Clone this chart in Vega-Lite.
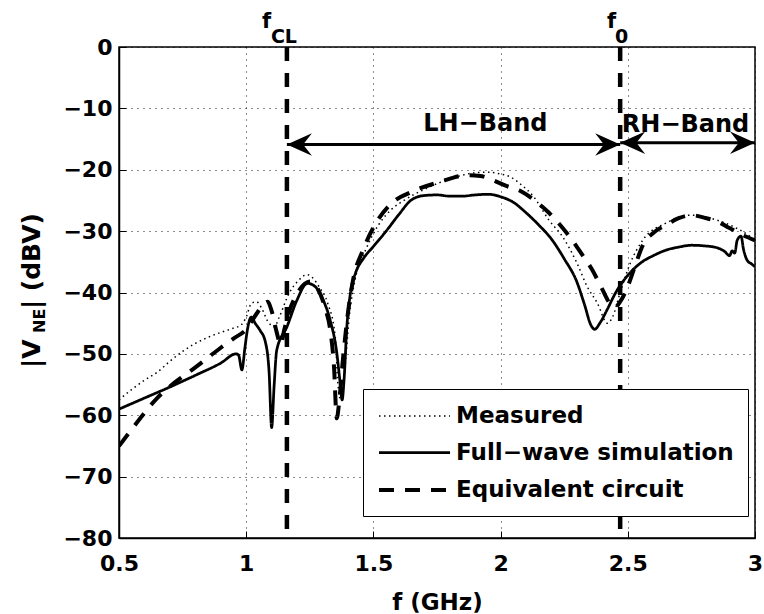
{
  "$schema": "https://vega.github.io/schema/vega-lite/v6.json",
  "width": 636,
  "height": 491,
  "autosize": {"type": "none"},
  "padding": {"left": 119, "top": 47, "right": 9, "bottom": 76},
  "background": "white",
  "config": {
    "font": "DejaVu Sans",
    "view": {"stroke": "black", "strokeWidth": 1.5},
    "axis": {
      "domainColor": "black", "domainWidth": 1.5,
      "tickColor": "black", "tickWidth": 1, "tickSize": -7,
      "grid": true, "gridColor": "black", "gridDash": [1, 5], "gridWidth": 1, "gridOpacity": 0.9,
      "labelFlush": false, "labelOverlap": false,
      "labelFont": "DejaVu Sans", "labelFontWeight": "bold", "labelFontSize": 22, "labelColor": "black",
      "titleFont": "DejaVu Sans", "titleFontWeight": "bold", "titleFontSize": 23, "titleColor": "black"
    }
  },
  "datasets": {
    "curves": [
      {"f": 0.5, "v": -57.5, "series": "Measured"},
      {"f": 0.55, "v": -55.8, "series": "Measured"},
      {"f": 0.6, "v": -54.3, "series": "Measured"},
      {"f": 0.65, "v": -53.0, "series": "Measured"},
      {"f": 0.7, "v": -51.2, "series": "Measured"},
      {"f": 0.75, "v": -49.6, "series": "Measured"},
      {"f": 0.8, "v": -48.3, "series": "Measured"},
      {"f": 0.85, "v": -47.3, "series": "Measured"},
      {"f": 0.9, "v": -46.5, "series": "Measured"},
      {"f": 0.95, "v": -45.8, "series": "Measured"},
      {"f": 0.98, "v": -45.3, "series": "Measured"},
      {"f": 1.0, "v": -44.0, "series": "Measured"},
      {"f": 1.02, "v": -41.8, "series": "Measured"},
      {"f": 1.04, "v": -41.5, "series": "Measured"},
      {"f": 1.06, "v": -42.5, "series": "Measured"},
      {"f": 1.085, "v": -44.7, "series": "Measured"},
      {"f": 1.11, "v": -45.6, "series": "Measured"},
      {"f": 1.13, "v": -44.0, "series": "Measured"},
      {"f": 1.17, "v": -40.0, "series": "Measured"},
      {"f": 1.2, "v": -38.3, "series": "Measured"},
      {"f": 1.24, "v": -37.1, "series": "Measured"},
      {"f": 1.29, "v": -39.3, "series": "Measured"},
      {"f": 1.32, "v": -41.7, "series": "Measured"},
      {"f": 1.35, "v": -47.2, "series": "Measured"},
      {"f": 1.36, "v": -54.7, "series": "Measured"},
      {"f": 1.372, "v": -57.5, "series": "Measured"},
      {"f": 1.385, "v": -53.8, "series": "Measured"},
      {"f": 1.405, "v": -44.0, "series": "Measured"},
      {"f": 1.43, "v": -37.5, "series": "Measured"},
      {"f": 1.47, "v": -33.0, "series": "Measured"},
      {"f": 1.52, "v": -29.0, "series": "Measured"},
      {"f": 1.57, "v": -26.5, "series": "Measured"},
      {"f": 1.62, "v": -25.0, "series": "Measured"},
      {"f": 1.7, "v": -23.2, "series": "Measured"},
      {"f": 1.8, "v": -21.5, "series": "Measured"},
      {"f": 1.9, "v": -20.5, "series": "Measured"},
      {"f": 1.95, "v": -20.4, "series": "Measured"},
      {"f": 2.0, "v": -20.7, "series": "Measured"},
      {"f": 2.04, "v": -21.2, "series": "Measured"},
      {"f": 2.08, "v": -22.4, "series": "Measured"},
      {"f": 2.13, "v": -24.4, "series": "Measured"},
      {"f": 2.19, "v": -28.2, "series": "Measured"},
      {"f": 2.245, "v": -31.0, "series": "Measured"},
      {"f": 2.3, "v": -35.2, "series": "Measured"},
      {"f": 2.34, "v": -39.0, "series": "Measured"},
      {"f": 2.38, "v": -41.7, "series": "Measured"},
      {"f": 2.42, "v": -45.0, "series": "Measured"},
      {"f": 2.44, "v": -44.0, "series": "Measured"},
      {"f": 2.47, "v": -40.0, "series": "Measured"},
      {"f": 2.51, "v": -35.2, "series": "Measured"},
      {"f": 2.56, "v": -31.4, "series": "Measured"},
      {"f": 2.65, "v": -28.7, "series": "Measured"},
      {"f": 2.745, "v": -27.4, "series": "Measured"},
      {"f": 2.85, "v": -28.2, "series": "Measured"},
      {"f": 2.94, "v": -29.8, "series": "Measured"},
      {"f": 3.0, "v": -31.4, "series": "Measured"},

      {"f": 0.5, "v": -59.0, "series": "Full\u2212wave simulation"},
      {"f": 0.6, "v": -57.2, "series": "Full\u2212wave simulation"},
      {"f": 0.7, "v": -55.4, "series": "Full\u2212wave simulation"},
      {"f": 0.8, "v": -53.5, "series": "Full\u2212wave simulation"},
      {"f": 0.9, "v": -51.5, "series": "Full\u2212wave simulation"},
      {"f": 0.96, "v": -50.0, "series": "Full\u2212wave simulation"},
      {"f": 0.97, "v": -50.2, "series": "Full\u2212wave simulation"},
      {"f": 0.983, "v": -52.6, "series": "Full\u2212wave simulation"},
      {"f": 0.995, "v": -49.0, "series": "Full\u2212wave simulation"},
      {"f": 1.005, "v": -46.0, "series": "Full\u2212wave simulation"},
      {"f": 1.02, "v": -44.0, "series": "Full\u2212wave simulation"},
      {"f": 1.035, "v": -45.0, "series": "Full\u2212wave simulation"},
      {"f": 1.055, "v": -46.2, "series": "Full\u2212wave simulation"},
      {"f": 1.075, "v": -48.0, "series": "Full\u2212wave simulation"},
      {"f": 1.09, "v": -53.0, "series": "Full\u2212wave simulation"},
      {"f": 1.1, "v": -62.0, "series": "Full\u2212wave simulation"},
      {"f": 1.11, "v": -55.0, "series": "Full\u2212wave simulation"},
      {"f": 1.12, "v": -49.4, "series": "Full\u2212wave simulation"},
      {"f": 1.16, "v": -45.6, "series": "Full\u2212wave simulation"},
      {"f": 1.2, "v": -41.2, "series": "Full\u2212wave simulation"},
      {"f": 1.24, "v": -38.5, "series": "Full\u2212wave simulation"},
      {"f": 1.27, "v": -39.0, "series": "Full\u2212wave simulation"},
      {"f": 1.3, "v": -41.0, "series": "Full\u2212wave simulation"},
      {"f": 1.33, "v": -44.5, "series": "Full\u2212wave simulation"},
      {"f": 1.355, "v": -49.5, "series": "Full\u2212wave simulation"},
      {"f": 1.37, "v": -55.0, "series": "Full\u2212wave simulation"},
      {"f": 1.377, "v": -57.5, "series": "Full\u2212wave simulation"},
      {"f": 1.385, "v": -54.0, "series": "Full\u2212wave simulation"},
      {"f": 1.395, "v": -46.0, "series": "Full\u2212wave simulation"},
      {"f": 1.41, "v": -40.0, "series": "Full\u2212wave simulation"},
      {"f": 1.43, "v": -36.8, "series": "Full\u2212wave simulation"},
      {"f": 1.46, "v": -34.5, "series": "Full\u2212wave simulation"},
      {"f": 1.5, "v": -32.5, "series": "Full\u2212wave simulation"},
      {"f": 1.55, "v": -30.0, "series": "Full\u2212wave simulation"},
      {"f": 1.6, "v": -27.3, "series": "Full\u2212wave simulation"},
      {"f": 1.65, "v": -24.9, "series": "Full\u2212wave simulation"},
      {"f": 1.7, "v": -24.2, "series": "Full\u2212wave simulation"},
      {"f": 1.75, "v": -24.1, "series": "Full\u2212wave simulation"},
      {"f": 1.8, "v": -24.3, "series": "Full\u2212wave simulation"},
      {"f": 1.85, "v": -24.3, "series": "Full\u2212wave simulation"},
      {"f": 1.9, "v": -24.1, "series": "Full\u2212wave simulation"},
      {"f": 1.95, "v": -24.0, "series": "Full\u2212wave simulation"},
      {"f": 2.0, "v": -24.4, "series": "Full\u2212wave simulation"},
      {"f": 2.05, "v": -25.3, "series": "Full\u2212wave simulation"},
      {"f": 2.1, "v": -27.0, "series": "Full\u2212wave simulation"},
      {"f": 2.15, "v": -29.0, "series": "Full\u2212wave simulation"},
      {"f": 2.2, "v": -31.3, "series": "Full\u2212wave simulation"},
      {"f": 2.25, "v": -34.5, "series": "Full\u2212wave simulation"},
      {"f": 2.3, "v": -38.3, "series": "Full\u2212wave simulation"},
      {"f": 2.33, "v": -42.0, "series": "Full\u2212wave simulation"},
      {"f": 2.355, "v": -45.3, "series": "Full\u2212wave simulation"},
      {"f": 2.37, "v": -46.0, "series": "Full\u2212wave simulation"},
      {"f": 2.39, "v": -45.0, "series": "Full\u2212wave simulation"},
      {"f": 2.42, "v": -42.7, "series": "Full\u2212wave simulation"},
      {"f": 2.45, "v": -40.2, "series": "Full\u2212wave simulation"},
      {"f": 2.5, "v": -37.2, "series": "Full\u2212wave simulation"},
      {"f": 2.55, "v": -35.2, "series": "Full\u2212wave simulation"},
      {"f": 2.6, "v": -34.0, "series": "Full\u2212wave simulation"},
      {"f": 2.65, "v": -33.1, "series": "Full\u2212wave simulation"},
      {"f": 2.7, "v": -32.6, "series": "Full\u2212wave simulation"},
      {"f": 2.75, "v": -32.3, "series": "Full\u2212wave simulation"},
      {"f": 2.8, "v": -32.4, "series": "Full\u2212wave simulation"},
      {"f": 2.85, "v": -32.7, "series": "Full\u2212wave simulation"},
      {"f": 2.88, "v": -33.3, "series": "Full\u2212wave simulation"},
      {"f": 2.9, "v": -34.0, "series": "Full\u2212wave simulation"},
      {"f": 2.91, "v": -33.2, "series": "Full\u2212wave simulation"},
      {"f": 2.92, "v": -33.6, "series": "Full\u2212wave simulation"},
      {"f": 2.93, "v": -31.5, "series": "Full\u2212wave simulation"},
      {"f": 2.945, "v": -30.8, "series": "Full\u2212wave simulation"},
      {"f": 2.955, "v": -33.0, "series": "Full\u2212wave simulation"},
      {"f": 2.97, "v": -34.8, "series": "Full\u2212wave simulation"},
      {"f": 2.985, "v": -35.3, "series": "Full\u2212wave simulation"},
      {"f": 3.0, "v": -35.8, "series": "Full\u2212wave simulation"},

      {"f": 0.5, "v": -65.0, "series": "Equivalent circuit"},
      {"f": 0.55, "v": -62.3, "series": "Equivalent circuit"},
      {"f": 0.6, "v": -59.6, "series": "Equivalent circuit"},
      {"f": 0.65, "v": -57.2, "series": "Equivalent circuit"},
      {"f": 0.7, "v": -55.3, "series": "Equivalent circuit"},
      {"f": 0.75, "v": -53.7, "series": "Equivalent circuit"},
      {"f": 0.8, "v": -52.2, "series": "Equivalent circuit"},
      {"f": 0.85, "v": -50.6, "series": "Equivalent circuit"},
      {"f": 0.9, "v": -49.0, "series": "Equivalent circuit"},
      {"f": 0.95, "v": -47.5, "series": "Equivalent circuit"},
      {"f": 1.0, "v": -46.0, "series": "Equivalent circuit"},
      {"f": 1.04, "v": -43.5, "series": "Equivalent circuit"},
      {"f": 1.07, "v": -41.8, "series": "Equivalent circuit"},
      {"f": 1.085, "v": -41.5, "series": "Equivalent circuit"},
      {"f": 1.1, "v": -43.0, "series": "Equivalent circuit"},
      {"f": 1.12, "v": -46.5, "series": "Equivalent circuit"},
      {"f": 1.135, "v": -48.5, "series": "Equivalent circuit"},
      {"f": 1.15, "v": -46.0, "series": "Equivalent circuit"},
      {"f": 1.17, "v": -43.0, "series": "Equivalent circuit"},
      {"f": 1.2, "v": -40.2, "series": "Equivalent circuit"},
      {"f": 1.23, "v": -38.6, "series": "Equivalent circuit"},
      {"f": 1.25, "v": -38.2, "series": "Equivalent circuit"},
      {"f": 1.28, "v": -39.3, "series": "Equivalent circuit"},
      {"f": 1.31, "v": -42.5, "series": "Equivalent circuit"},
      {"f": 1.33, "v": -46.0, "series": "Equivalent circuit"},
      {"f": 1.345, "v": -52.0, "series": "Equivalent circuit"},
      {"f": 1.356, "v": -60.5, "series": "Equivalent circuit"},
      {"f": 1.365, "v": -58.0, "series": "Equivalent circuit"},
      {"f": 1.38, "v": -51.0, "series": "Equivalent circuit"},
      {"f": 1.395, "v": -45.0, "series": "Equivalent circuit"},
      {"f": 1.42, "v": -38.0, "series": "Equivalent circuit"},
      {"f": 1.46, "v": -33.0, "series": "Equivalent circuit"},
      {"f": 1.51, "v": -28.7, "series": "Equivalent circuit"},
      {"f": 1.565, "v": -25.7, "series": "Equivalent circuit"},
      {"f": 1.65, "v": -23.6, "series": "Equivalent circuit"},
      {"f": 1.76, "v": -22.0, "series": "Equivalent circuit"},
      {"f": 1.87, "v": -20.9, "series": "Equivalent circuit"},
      {"f": 1.92, "v": -21.0, "series": "Equivalent circuit"},
      {"f": 1.97, "v": -21.7, "series": "Equivalent circuit"},
      {"f": 2.02, "v": -22.6, "series": "Equivalent circuit"},
      {"f": 2.08, "v": -23.5, "series": "Equivalent circuit"},
      {"f": 2.14, "v": -25.2, "series": "Equivalent circuit"},
      {"f": 2.19, "v": -27.0, "series": "Equivalent circuit"},
      {"f": 2.24, "v": -29.3, "series": "Equivalent circuit"},
      {"f": 2.28, "v": -31.4, "series": "Equivalent circuit"},
      {"f": 2.32, "v": -33.8, "series": "Equivalent circuit"},
      {"f": 2.36, "v": -36.3, "series": "Equivalent circuit"},
      {"f": 2.4, "v": -39.5, "series": "Equivalent circuit"},
      {"f": 2.43, "v": -41.8, "series": "Equivalent circuit"},
      {"f": 2.45, "v": -42.4, "series": "Equivalent circuit"},
      {"f": 2.47, "v": -41.5, "series": "Equivalent circuit"},
      {"f": 2.5, "v": -39.0, "series": "Equivalent circuit"},
      {"f": 2.53, "v": -35.5, "series": "Equivalent circuit"},
      {"f": 2.56, "v": -32.2, "series": "Equivalent circuit"},
      {"f": 2.6, "v": -30.3, "series": "Equivalent circuit"},
      {"f": 2.65, "v": -29.0, "series": "Equivalent circuit"},
      {"f": 2.7, "v": -27.9, "series": "Equivalent circuit"},
      {"f": 2.75, "v": -27.4, "series": "Equivalent circuit"},
      {"f": 2.8, "v": -27.8, "series": "Equivalent circuit"},
      {"f": 2.85, "v": -28.4, "series": "Equivalent circuit"},
      {"f": 2.9, "v": -29.5, "series": "Equivalent circuit"},
      {"f": 2.95, "v": -30.6, "series": "Equivalent circuit"},
      {"f": 3.0, "v": -31.5, "series": "Equivalent circuit"}
    ],
    "markers": [
      {"f": 1.16, "name": "fCL"},
      {"f": 2.47, "name": "f0"}
    ],
    "bands": [
      {"f1": 1.16, "f2": 2.47, "v": -15.9, "text": "LH\u2212Band", "fc": 1.94, "vt": -13.7},
      {"f1": 2.47, "f2": 3.0, "v": -15.6, "text": "RH\u2212Band", "fc": 2.727, "vt": -13.85}
    ],
    "heads": [
      {"f": 1.16, "v": -15.9, "dir": "left"},
      {"f": 2.47, "v": -15.9, "dir": "right"},
      {"f": 2.47, "v": -15.6, "dir": "left"},
      {"f": 3.0, "v": -15.6, "dir": "right"}
    ],
    "mainText": [
      {"f": 1.062, "v": 0, "text": "f"},
      {"f": 2.418, "v": 0, "text": "f"}
    ],
    "subText": [
      {"f": 1.097, "v": 0, "text": "CL"},
      {"f": 2.45, "v": 0, "text": "0"}
    ],
    "yTitle": [
      {"f": 0.5, "v": -52.3, "text": "|V"},
      {"f": 0.5, "v": -42.7, "text": "| (dBV)"}
    ],
    "yTitleSub": [
      {"f": 0.5, "v": -46.6, "text": "NE"}
    ]
  },
  "layer": [
    {
      "data": {"name": "curves"},
      "mark": {"type": "line", "interpolate": "monotone", "color": "black", "strokeCap": "butt", "clip": true},
      "encoding": {
        "x": {
          "field": "f", "type": "quantitative",
          "scale": {"domain": [0.5, 3], "nice": false, "zero": false},
          "axis": {"values": [0.5, 1, 1.5, 2, 2.5, 3], "format": "~g", "title": "f (GHz)", "labelPadding": 22, "titlePadding": 17}
        },
        "y": {
          "field": "v", "type": "quantitative",
          "scale": {"domain": [-80, 0], "nice": false, "zero": false},
          "axis": {"values": [-80, -70, -60, -50, -40, -30, -20, -10, 0], "format": "~g", "title": null, "labelPadding": 14}
        },
        "strokeDash": {
          "field": "series", "type": "nominal",
          "scale": {"domain": ["Measured", "Full\u2212wave simulation", "Equivalent circuit"], "range": [[1.5, 3.5], [1, 0], [15, 11]]},
          "legend": {
            "orient": "none", "legendX": 244, "legendY": 342, "title": null,
            "symbolType": "M-1,0L4.92,0", "symbolSize": 576, "symbolStrokeColor": "black",
            "labelFont": "DejaVu Sans", "labelFontWeight": "bold", "labelFontSize": 23, "labelColor": "black",
            "labelOffset": 51, "labelLimit": 500, "rowPadding": 11, "padding": 14,
            "strokeColor": "black", "fillColor": "white", "cornerRadius": 0
          }
        },
        "strokeWidth": {
          "field": "series", "type": "nominal",
          "scale": {"domain": ["Measured", "Full\u2212wave simulation", "Equivalent circuit"], "range": [1.5, 4, 4]},
          "legend": {
            "orient": "none", "legendX": 244, "legendY": 342, "title": null,
            "symbolType": "M-1,0L4.92,0", "symbolSize": 576, "symbolStrokeColor": "black",
            "labelFont": "DejaVu Sans", "labelFontWeight": "bold", "labelFontSize": 23, "labelColor": "black",
            "labelOffset": 51, "labelLimit": 500, "rowPadding": 11, "padding": 14,
            "strokeColor": "black", "fillColor": "white", "cornerRadius": 0
          }
        }
      }
    },
    {
      "data": {"name": "markers"},
      "mark": {"type": "rule", "color": "black", "strokeWidth": 4.5, "strokeDash": [14, 12]},
      "encoding": {"x": {"field": "f", "type": "quantitative"}}
    },
    {
      "data": {"name": "bands"},
      "mark": {"type": "rule", "color": "black", "strokeWidth": 3},
      "encoding": {
        "x": {"field": "f1", "type": "quantitative"},
        "x2": {"field": "f2"},
        "y": {"field": "v", "type": "quantitative"}
      }
    },
    {
      "data": {"name": "heads"},
      "transform": [{"filter": "datum.dir === 'right'"}],
      "mark": {"type": "point", "shape": "M0,0L-1,-0.45L-0.65,0L-1,0.45Z", "size": 2500, "filled": true, "color": "black", "opacity": 1, "strokeWidth": 0},
      "encoding": {
        "x": {"field": "f", "type": "quantitative"},
        "y": {"field": "v", "type": "quantitative"}
      }
    },
    {
      "data": {"name": "heads"},
      "transform": [{"filter": "datum.dir === 'left'"}],
      "mark": {"type": "point", "shape": "M0,0L1,-0.45L0.65,0L1,0.45Z", "size": 2500, "filled": true, "color": "black", "opacity": 1, "strokeWidth": 0},
      "encoding": {
        "x": {"field": "f", "type": "quantitative"},
        "y": {"field": "v", "type": "quantitative"}
      }
    },
    {
      "data": {"name": "bands"},
      "mark": {"type": "text", "font": "DejaVu Sans", "fontWeight": "bold", "fontSize": 24, "align": "center", "baseline": "alphabetic", "color": "black"},
      "encoding": {
        "x": {"field": "fc", "type": "quantitative"},
        "y": {"field": "vt", "type": "quantitative"},
        "text": {"field": "text"}
      }
    },
    {
      "data": {"name": "mainText"},
      "mark": {"type": "text", "font": "DejaVu Sans", "fontWeight": "bold", "fontSize": 21, "align": "left", "baseline": "alphabetic", "dy": -19, "color": "black"},
      "encoding": {
        "x": {"field": "f", "type": "quantitative"},
        "y": {"field": "v", "type": "quantitative"},
        "text": {"field": "text"}
      }
    },
    {
      "data": {"name": "subText"},
      "mark": {"type": "text", "font": "DejaVu Sans", "fontWeight": "bold", "fontSize": 19, "align": "left", "baseline": "alphabetic", "dy": -4, "color": "black"},
      "encoding": {
        "x": {"field": "f", "type": "quantitative"},
        "y": {"field": "v", "type": "quantitative"},
        "text": {"field": "text"}
      }
    },
    {
      "data": {"name": "yTitle"},
      "mark": {"type": "text", "font": "DejaVu Sans", "fontWeight": "bold", "fontSize": 25, "align": "left", "baseline": "alphabetic", "angle": 270, "dy": -79, "color": "black"},
      "encoding": {
        "x": {"field": "f", "type": "quantitative"},
        "y": {"field": "v", "type": "quantitative"},
        "text": {"field": "text"}
      }
    },
    {
      "data": {"name": "yTitleSub"},
      "mark": {"type": "text", "font": "DejaVu Sans", "fontWeight": "bold", "fontSize": 16, "align": "left", "baseline": "alphabetic", "angle": 270, "dy": -74, "color": "black"},
      "encoding": {
        "x": {"field": "f", "type": "quantitative"},
        "y": {"field": "v", "type": "quantitative"},
        "text": {"field": "text"}
      }
    }
  ]
}
